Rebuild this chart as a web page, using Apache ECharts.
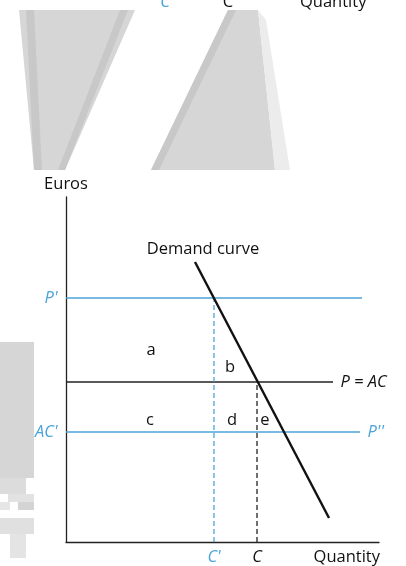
<!DOCTYPE html>
<html><head><meta charset="utf-8">
<script src="https://cdn.jsdelivr.net/npm/echarts@6/dist/echarts.min.js"></script>
<style>html,body{margin:0;padding:0;background:#fff}#c{width:406px;height:566px}</style>
</head><body><div id="c"></div>
<script>
// ---- data (chart units) ----
const xRange = [0, 313];
const yRange = [0, 345];
const priceNames = ["P'", "P = AC", "AC'", "P''"];
const priceLevels = [244, 160, 110];
const priceLineEnds = [296, 267, 294];
const quantityNames = ["C'", "C"];
const quantityLevels = [148, 191];
const demandX = [129, 263];
const demandY = [280, 24];
const areaNames = ["a", "b", "c", "d", "e"];
const areaX = [85, 164, 84, 166, 199];
const areaY = [192, 175, 122, 122, 122];

const BLUE = '#4aa3d9', INK = '#111';
const FONT = 'Open Sans';
const FS = 16.5;

const chart = echarts.init(document.getElementById('c'), null, {renderer: 'canvas'});

function seg(name, pts, color, width, type) {
  return {type: 'line', name, data: pts, symbol: 'none', silent: true,
    lineStyle: {color, width, type: type || 'solid'}, z: 3};
}
const series = [
  seg('P1', [[0, priceLevels[0]], [priceLineEnds[0], priceLevels[0]]], BLUE, 1.3),
  seg('PAC', [[0, priceLevels[1]], [priceLineEnds[1], priceLevels[1]]], '#222', 1.3),
  seg('AC1', [[0, priceLevels[2]], [priceLineEnds[2], priceLevels[2]]], BLUE, 1.3),
  seg("C'", [[quantityLevels[0], 0], [quantityLevels[0], priceLevels[0]]], BLUE, 1.3, [5, 3]),
  seg('C', [[quantityLevels[1], 0], [quantityLevels[1], priceLevels[1]]], '#222', 1.3, [5, 3]),
  seg('Demand', [[demandX[0], demandY[0]], [demandX[1], demandY[1]]], INK, 2.4)
];
function lbl(x, y, text, color, pos, extra) {
  return {value: [x, y], itemStyle: {opacity: 0},
    label: Object.assign({show: true, formatter: text, color, position: pos,
      fontFamily: FONT, fontSize: FS, opacity: 1}, extra || {})};
}
const labels = [];
areaNames.forEach((n, i) => labels.push(lbl(areaX[i], areaY[i], n, INK, 'inside')));
labels.push(lbl(0, priceLevels[0], priceNames[0], BLUE, 'left', {fontStyle: 'italic', distance: 8}));
labels.push(lbl(priceLineEnds[1], priceLevels[1], priceNames[1], INK, 'right', {fontStyle: 'italic', distance: 7}));
labels.push(lbl(0, priceLevels[2], priceNames[2], BLUE, 'left', {fontStyle: 'italic', distance: 8}));
labels.push(lbl(priceLineEnds[2], priceLevels[2], priceNames[3], BLUE, 'right', {fontStyle: 'italic', distance: 7}));
labels.push(lbl(quantityLevels[0], 0, quantityNames[0], BLUE, 'bottom', {fontStyle: 'italic', distance: 6}));
labels.push(lbl(quantityLevels[1], 0, quantityNames[1], INK, 'bottom', {fontStyle: 'italic', distance: 6}));
labels.push(lbl(demandX[0], demandY[0], 'Demand curve', INK, 'top', {distance: 4, offset: [8, 0]}));
labels.push(lbl(0, yRange[1], 'Euros', INK, 'top', {distance: 4}));
labels.push(lbl(xRange[1], 0, 'Quantity', INK, 'bottom', {distance: 6, align: 'right', offset: [1, 0]}));
series.push({type: 'scatter', data: labels, symbolSize: 1, silent: true, z: 5});

const GREY = '#d6d6d6', DARK = '#c8c8c8';
const g = [
  {type: 'polygon', shape: {points: [[19, 10], [135, 10], [65, 170], [34, 170]]}, style: {fill: GREY}, z: -1},
  {type: 'polygon', shape: {points: [[26, 10], [34, 10], [42, 170], [34, 170]]}, style: {fill: DARK}, z: -1},
  {type: 'polygon', shape: {points: [[120, 10], [128, 10], [65, 170], [58, 170]]}, style: {fill: DARK}, z: -1},
  {type: 'polygon', shape: {points: [[228, 10], [258, 10], [275, 170], [151, 170]]}, style: {fill: GREY}, z: -1},
  {type: 'polygon', shape: {points: [[228, 10], [236, 10], [159, 170], [151, 170]]}, style: {fill: DARK}, z: -1},
  {type: 'polygon', shape: {points: [[258, 10], [266, 20], [290, 170], [275, 170]]}, style: {fill: '#ececec'}, z: -1},
  {type: 'rect', shape: {x: 0, y: 342, width: 34, height: 136}, style: {fill: GREY}, z: -1},
  {type: 'rect', shape: {x: 0, y: 478, width: 26, height: 16}, style: {fill: '#dcdcdc'}, z: -1},
  {type: 'rect', shape: {x: 8, y: 494, width: 26, height: 8}, style: {fill: '#e2e2e2'}, z: -1},
  {type: 'rect', shape: {x: 0, y: 502, width: 10, height: 8}, style: {fill: '#e6e6e6'}, z: -1},
  {type: 'rect', shape: {x: 18, y: 502, width: 16, height: 8}, style: {fill: '#d4d4d4'}, z: -1},
  {type: 'rect', shape: {x: 0, y: 518, width: 34, height: 16}, style: {fill: '#e0e0e0'}, z: -1},
  {type: 'rect', shape: {x: 10, y: 534, width: 16, height: 24}, style: {fill: '#e4e4e4'}, z: -1},
  {type: 'text', style: {text: 'C', x: 165, y: 11, fill: BLUE, font: 'italic 16.5px "Open Sans"', textAlign: 'center', textVerticalAlign: 'bottom'}},
  {type: 'text', style: {text: 'C', x: 228, y: 11, fill: INK, font: '16.5px "Open Sans"', textAlign: 'center', textVerticalAlign: 'bottom'}},
  {type: 'text', style: {text: 'Quantity', x: 300, y: 11, fill: INK, font: '16.5px "Open Sans"', textAlign: 'left', textVerticalAlign: 'bottom'}}
];

chart.setOption({
  animation: false,
  backgroundColor: '#fff',
  grid: {left: 66, right: 27, top: 197, bottom: 24},
  xAxis: {type: 'value', min: xRange[0], max: xRange[1], splitLine: {show: false},
    axisLine: {show: true, onZero: false, lineStyle: {color: '#222', width: 1.3}}, axisTick: {show: false}, axisLabel: {show: false}},
  yAxis: {type: 'value', min: yRange[0], max: yRange[1], splitLine: {show: false},
    axisLine: {show: true, onZero: false, lineStyle: {color: '#222', width: 1.3}}, axisTick: {show: false}, axisLabel: {show: false}},
  graphic: g,
  series
});
</script></body></html>
